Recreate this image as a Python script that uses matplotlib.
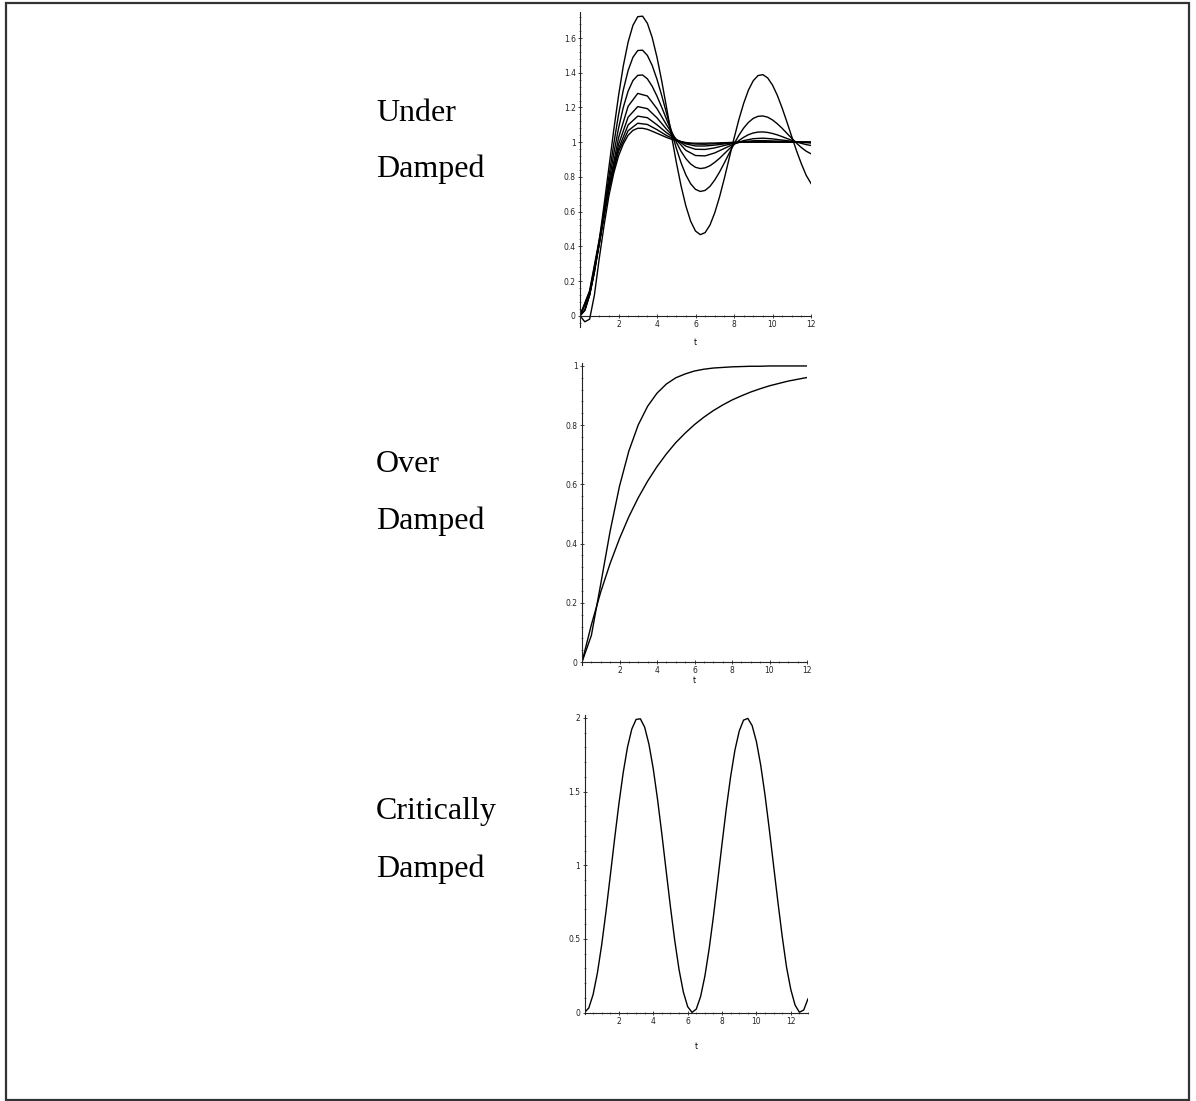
import matplotlib
matplotlib.use("Agg")
import matplotlib.pyplot as plt
from matplotlib.patches import Rectangle
from matplotlib.ticker import AutoMinorLocator, FormatStrFormatter
import numpy as np

# sample times read along the t axis
t_fine = np.arange(0, 12.01, 0.25)
t_coarse = np.arange(0, 12.01, 0.5)
t_crit = np.arange(0, 13.01, 0.25)

# under damped family
under_1 = [0.000, 0.031, 0.120, 0.258, 0.435, 0.638, 0.853, 1.067, 1.266, 1.440,
           1.577, 1.673, 1.723, 1.726, 1.685, 1.603, 1.489, 1.350, 1.197, 1.039,
           0.886, 0.748, 0.632, 0.544, 0.488, 0.467, 0.479, 0.522, 0.593, 0.685,
           0.792, 0.907, 1.021, 1.129, 1.223, 1.300, 1.354, 1.384, 1.389, 1.370,
           1.329, 1.270, 1.197, 1.116, 1.032, 0.950, 0.875, 0.809, 0.762]
under_2 = [0.000, 0.031, 0.119, 0.253, 0.420, 0.607, 0.800, 0.987, 1.157, 1.301,
           1.413, 1.489, 1.528, 1.530, 1.500, 1.442, 1.362, 1.267, 1.165, 1.063,
           0.966, 0.881, 0.811, 0.760, 0.728, 0.716, 0.722, 0.745, 0.782, 0.828,
           0.881, 0.936, 0.989, 1.039, 1.081, 1.114, 1.137, 1.149, 1.151, 1.144,
           1.128, 1.106, 1.080, 1.051, 1.022, 0.994, 0.969, 0.948, 0.933]
under_3 = [0.000, 0.032, 0.121, 0.252, 0.413, 0.588, 0.764, 0.931, 1.079, 1.201,
           1.294, 1.355, 1.385, 1.387, 1.365, 1.322, 1.265, 1.200, 1.131, 1.063,
           1.001, 0.947, 0.905, 0.874, 0.855, 0.848, 0.852, 0.864, 0.884, 0.907,
           0.934, 0.961, 0.986, 1.009, 1.028, 1.043, 1.053, 1.058, 1.059, 1.056,
           1.050, 1.042, 1.032, 1.021, 1.011, 1.001, 0.993, 0.986, 0.981]
under_4 = [0.000, 0.124, 0.412, 0.742, 1.024, 1.207, 1.281, 1.266, 1.193, 1.099,
           1.014, 0.953, 0.923, 0.921, 0.938, 0.964, 0.990, 1.009, 1.020, 1.023,
           1.019, 1.012, 1.005, 0.999, 0.995]
under_5 = [0.000, 0.130, 0.417, 0.731, 0.986, 1.144, 1.205, 1.193, 1.140, 1.074,
           1.016, 0.977, 0.959, 0.958, 0.967, 0.981, 0.994, 1.003, 1.008, 1.009,
           1.007, 1.005, 1.002, 1.000, 0.999]
under_6 = [0.000, 0.137, 0.426, 0.728, 0.961, 1.099, 1.150, 1.141, 1.100, 1.054,
           1.015, 0.990, 0.978, 0.978, 0.983, 0.990, 0.996, 1.001, 1.003, 1.003,
           1.003, 1.002, 1.001, 1.000, 1.000]
under_7 = [0.000, 0.145, 0.439, 0.731, 0.946, 1.066, 1.109, 1.102, 1.072, 1.038,
           1.012, 0.995, 0.989, 0.988, 0.991, 0.995, 0.998, 1.000, 1.001, 1.001,
           1.001, 1.000, 1.000, 1.000, 1.000]
# the one curve that dips just below zero at the start (fine grid)
under_8 = [0.000, -0.035, -0.020, 0.120, 0.330, 0.520, 0.690, 0.820, 0.920, 0.990,
           1.040, 1.068, 1.080, 1.080, 1.074, 1.063, 1.051, 1.039, 1.027, 1.017,
           1.009, 1.003, 0.998, 0.995, 0.994, 0.994, 0.994, 0.995, 0.995, 0.996,
           0.997, 0.998, 0.999, 1.000, 1.000, 1.000, 1.000, 1.000, 1.000, 1.000,
           1.000, 1.000, 1.000, 1.000, 1.000, 1.000, 1.000, 1.000, 1.000]

# over damped pair
over_fast = [0.000, 0.090, 0.264, 0.442, 0.594, 0.713, 0.801, 0.864, 0.908, 0.939,
             0.960, 0.973, 0.983, 0.989, 0.993, 0.995, 0.997, 0.998, 0.999, 0.999,
             1.000, 1.000, 1.000, 1.000, 1.000]
over_slow = [0.000, 0.126, 0.237, 0.333, 0.417, 0.491, 0.555, 0.611, 0.660, 0.703,
             0.741, 0.773, 0.802, 0.827, 0.849, 0.868, 0.885, 0.899, 0.912, 0.923,
             0.933, 0.941, 0.949, 0.955, 0.961]

# "critically damped" curve
crit = [0.000, 0.031, 0.122, 0.268, 0.460, 0.685, 0.929, 1.178, 1.416, 1.628,
        1.801, 1.924, 1.990, 1.994, 1.937, 1.821, 1.654, 1.446, 1.211, 0.962,
        0.716, 0.488, 0.291, 0.139, 0.040, 0.001, 0.023, 0.107, 0.246, 0.432,
        0.653, 0.897, 1.146, 1.387, 1.602, 1.782, 1.911, 1.985, 1.997, 1.948,
        1.839, 1.679, 1.476, 1.243, 0.996, 0.750, 0.517, 0.309, 0.156, 0.050,
        0.002, 0.017, 0.093]

labels = [("Under", "Damped"), ("Over", "Damped"), ("Critically", "Damped")]

W, H = 1196, 1101
fig = plt.figure(figsize=(W / 100, H / 100), dpi=100)
fig.patch.set_facecolor("white")

# page frame
fig.add_artist(Rectangle((6 / W, 1 - 1100 / H), 1183 / W, 1097 / H, transform=fig.transFigure,
                         fill=False, edgecolor="#333333", linewidth=1.6))


def px_axes(left, top, right, bottom):
    return fig.add_axes([left / W, 1 - bottom / H, (right - left) / W, (bottom - top) / H])


def maple_style(ax, yticks, xticks):
    for s in ("top", "right"):
        ax.spines[s].set_visible(False)
    ax.spines["left"].set_position(("data", 0))
    ax.spines["bottom"].set_position(("data", 0))
    for s in ("left", "bottom"):
        ax.spines[s].set_linewidth(0.8)
        ax.spines[s].set_color("#222222")
    ax.set_yticks(yticks)
    ax.set_xticks(xticks)
    ax.yaxis.set_major_formatter(FormatStrFormatter("%g"))
    ax.xaxis.set_minor_locator(AutoMinorLocator(4))
    ax.yaxis.set_minor_locator(AutoMinorLocator(5))
    ax.tick_params(which="major", direction="inout", length=3, width=0.6, labelsize=5.5,
                   pad=1.5, colors="#222222")
    ax.tick_params(which="minor", direction="inout", length=1.6, width=0.5, colors="#444444")
    ax.patch.set_alpha(0)


lw = 1.0
kw = dict(color="black", lw=lw, solid_joinstyle="round")
# under damped
ax1 = px_axes(580, 12, 811, 327)
for y in (under_1, under_2, under_3, under_8):
    ax1.plot(t_fine, y, **kw)
for y in (under_4, under_5, under_6, under_7):
    ax1.plot(t_coarse, y, **kw)
ax1.set_xlim(0, 12)
ax1.set_ylim(-0.065, 1.75)
maple_style(ax1, [0, 0.2, 0.4, 0.6, 0.8, 1, 1.2, 1.4, 1.6], [2, 4, 6, 8, 10, 12])
ax1.set_xlabel("t", fontsize=5.5)
ax1.xaxis.set_label_coords(0.5, -0.035)

# over damped
ax2 = px_axes(582, 363, 807, 665)
ax2.plot(t_coarse, over_fast, **kw)
ax2.plot(t_coarse, over_slow, **kw)
ax2.set_xlim(0, 12)
ax2.set_ylim(-0.01, 1.01)
maple_style(ax2, [0, 0.2, 0.4, 0.6, 0.8, 1], [2, 4, 6, 8, 10, 12])
ax2.set_xlabel("t", fontsize=5.5)
ax2.xaxis.set_label_coords(0.5, -0.035)

# critically damped
ax3 = px_axes(584.5, 715, 808, 1014)
ax3.plot(t_crit, crit, **kw)
ax3.set_xlim(0, 13)
ax3.set_ylim(-0.01, 2.02)
maple_style(ax3, [0, 0.5, 1, 1.5, 2], [2, 4, 6, 8, 10, 12])
ax3.set_xlabel("t", fontsize=5.5)
ax3.xaxis.set_label_coords(0.5, -0.095)

# side labels
baselines = [(121, 177), (472, 529), (819, 877)]
for (l1, l2), (b1, b2) in zip(labels, baselines):
    fig.text(376 / W, 1 - b1 / H, l1, fontsize=23, family="Liberation Serif", va="baseline")
    fig.text(376 / W, 1 - b2 / H, l2, fontsize=23, family="Liberation Serif", va="baseline")

fig.savefig("out.png", dpi=100)
